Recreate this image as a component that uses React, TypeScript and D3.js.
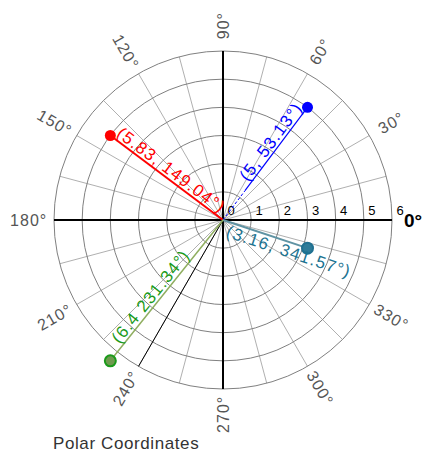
import React, { useEffect, useRef } from 'react'
import * as d3 from 'd3'

// points, given as cartesian (x, y) in chart units
const pointX = [-4, 3, 3, -4]
const pointY = [3, 4, -1, -5]
const pointLabels = ['(5.83, 149.04°)', '(5, 53.13°)', '(3.16, 341.57°)', '(6.4 231.34°)']

const ringValues = [1, 2, 3, 4, 5, 6]
const radialTicks = ['0', '1', '2', '3', '4', '5', '6']
const angleLabels = [0, 30, 60, 90, 120, 150, 180, 210, 240, 270, 300, 330]
const guideAngle = 240

const W = 433
const H = 466

function drawChart(el: SVGSVGElement) {
  const cx = 223
  const cy = 220
  const svg = d3.select(el)
  svg.selectAll('*').remove()

  const r = d3.scaleLinear().domain([0, 6]).range([0, 169])
  const toXY = (rad: number, deg: number) => {
    const a = (deg * Math.PI) / 180
    return [cx + r(rad) * Math.cos(a), cy - r(rad) * Math.sin(a)]
  }

  const g = svg.append('g')

  // spokes every 15 degrees
  g.selectAll('line.spoke')
    .data(d3.range(0, 360, 15))
    .enter()
    .append('line')
    .attr('x1', cx)
    .attr('y1', cy)
    .attr('x2', d => toXY(6, d)[0])
    .attr('y2', d => toXY(6, d)[1])
    .attr('stroke', '#b0b0b0')
    .attr('stroke-width', 1)

  // rings
  g.selectAll('circle.ring')
    .data(ringValues)
    .enter()
    .append('circle')
    .attr('cx', cx)
    .attr('cy', cy)
    .attr('r', d => r(d))
    .attr('fill', 'none')
    .attr('stroke', '#808080')
    .attr('stroke-width', 1)

  // axes
  g.append('line')
    .attr('x1', cx - r(6)).attr('y1', cy).attr('x2', cx + r(6)).attr('y2', cy)
    .attr('stroke', '#000').attr('stroke-width', 2)
  g.append('line')
    .attr('x1', cx).attr('y1', cy - r(6)).attr('x2', cx).attr('y2', cy + r(6))
    .attr('stroke', '#000').attr('stroke-width', 2)

  // radial tick labels
  g.selectAll('text.rt')
    .data(radialTicks)
    .enter()
    .append('text')
    .attr('x', (d, i) => cx + r(i) + 8)
    .attr('y', cy - 5)
    .attr('text-anchor', 'middle')
    .attr('font-family', 'Liberation Sans, Arial, sans-serif')
    .attr('font-size', 13)
    .attr('fill', '#000')
    .text(d => d)

  // angle labels
  g.selectAll('text.ang')
    .data(angleLabels)
    .enter()
    .append('text')
    .attr('transform', d => {
      const [x, y] = toXY(d === 0 ? 6.75 : 6.9, d)
      let rot = -d
      if (d > 90 && d <= 270) rot += 180
      if (d === 0) rot = 0
      return `translate(${x},${y}) rotate(${rot})`
    })
    .attr('text-anchor', 'middle')
    .attr('dy', '0.35em')
    .attr('font-family', 'Liberation Sans, Arial, sans-serif')
    .attr('font-size', d => (d === 0 ? 19 : 16))
    .attr('letter-spacing', d => (d === 0 ? 0 : 1))
    .attr('font-weight', d => (d === 0 ? 'bold' : 'normal'))
    .attr('fill', d => (d === 0 ? '#000' : '#555'))
    .text(d => d + '°')

  // black guide line
  const gEnd = toXY(6, guideAngle)
  g.append('line')
    .attr('x1', cx).attr('y1', cy).attr('x2', gEnd[0]).attr('y2', gEnd[1])
    .attr('stroke', '#000').attr('stroke-width', 1)

  const lineColors = ['#ff0000', '#0000ff', '#5f93a3', '#8fae5f']
  const textColors = ['#ff0000', '#0000ff', '#1c7391', '#1a9a1a']
  const dotFill = ['#ff0000', '#0000ff', '#2e7b98', '#6f9a4f']
  const dotStroke = ['#ff0000', '#0000ff', '#1f7090', '#1a9a1a']
  const lineWidth = [2, 1.2, 2, 1.5]
  // text placement along each line: start radius (units), offset from line, flip direction
  const textStart = [4.85, 1.6, 0.25, 5.75]
  const textOffset = [-3, -3, 15, -3]
  const inward = [true, false, false, true]

  pointX.forEach((px, i) => {
    const py = pointY[i]
    const rad = Math.sqrt(px * px + py * py)
    const deg = (Math.atan2(py, px) * 180) / Math.PI
    const [ex, ey] = toXY(rad, deg)
    if (i === 1) {
      const [mx, my] = toXY(1.3, deg)
      g.append('line')
        .attr('x1', cx).attr('y1', cy).attr('x2', mx).attr('y2', my)
        .attr('stroke', lineColors[i]).attr('stroke-width', 1)
        .attr('stroke-dasharray', '3,2')
      g.append('line')
        .attr('x1', mx).attr('y1', my).attr('x2', ex).attr('y2', ey)
        .attr('stroke', lineColors[i]).attr('stroke-width', lineWidth[i])
    } else {
      g.append('line')
        .attr('x1', cx).attr('y1', cy).attr('x2', ex).attr('y2', ey)
        .attr('stroke', lineColors[i]).attr('stroke-width', lineWidth[i])
    }
    g.append('circle')
      .attr('cx', ex).attr('cy', ey).attr('r', 5.5)
      .attr('fill', dotFill[i])
      .attr('stroke', dotStroke[i])
      .attr('stroke-width', i >= 2 ? 2 : 0)

    const [tx, ty] = toXY(textStart[i], deg)
    let rot = -deg
    if (inward[i]) rot += 180
    g.append('text')
      .attr('transform', `translate(${tx},${ty}) rotate(${rot})`)
      .attr('y', textOffset[i])
      .attr('font-family', 'Liberation Sans, Arial, sans-serif')
      .attr('font-size', 17)
      .attr('letter-spacing', 1.2)
      .attr('fill', textColors[i])
      .text(pointLabels[i])
  })

  svg.append('text')
    .attr('x', 53)
    .attr('y', 449)
    .attr('font-family', 'Liberation Sans, Arial, sans-serif')
    .attr('font-size', 17)
    .attr('letter-spacing', 0.6)
    .attr('fill', '#333')
    .text('Polar Coordinates')
}

function App() {
  const ref = useRef<SVGSVGElement>(null)
  useEffect(() => {
    if (ref.current) drawChart(ref.current)
  }, [])

  return (
    <svg
      ref={ref}
      width={W}
      height={H}
      style={{ position: 'absolute', left: 0, top: 0, background: '#fff' }}
    />
  )
}

export default App
